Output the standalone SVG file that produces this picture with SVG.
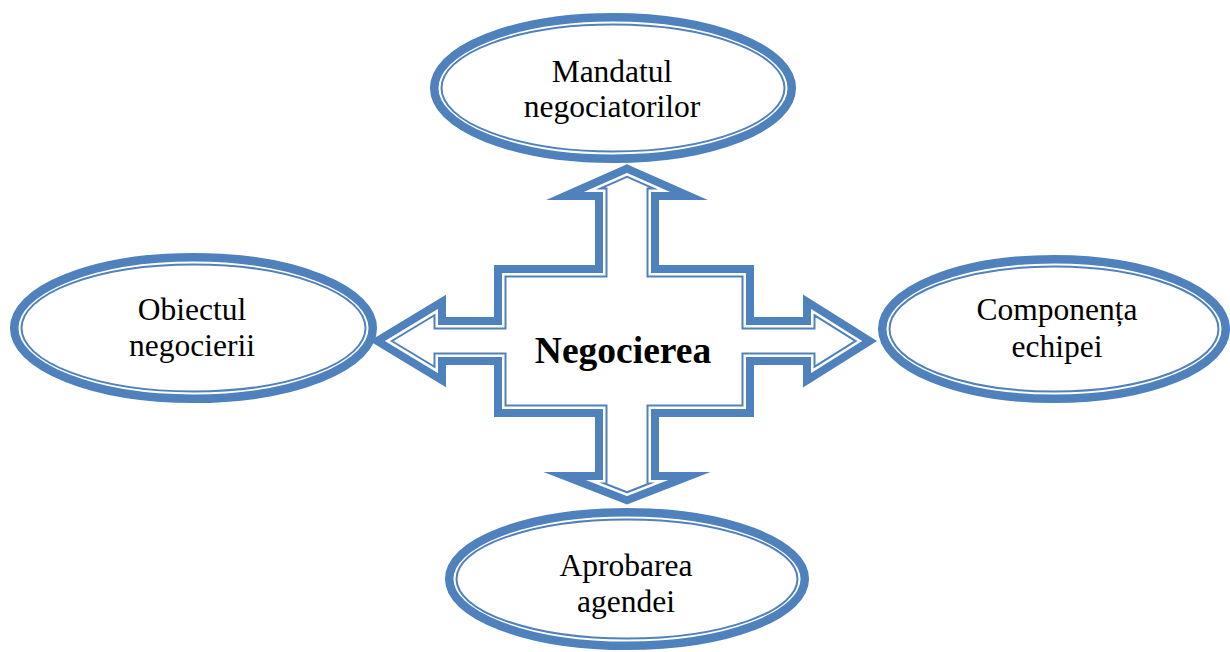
<svg xmlns="http://www.w3.org/2000/svg" xmlns:xlink="http://www.w3.org/1999/xlink" width="1230" height="652" viewBox="0 0 1230 652">
  <style>
    .thick { fill: #ffffff; stroke: #4f81bd; stroke-width: 8.5; }
    .thin { fill: none; stroke: #4f81bd; stroke-width: 2; }
    .label { font-family: "Liberation Serif", "Times New Roman", serif; font-size: 31.5px; fill: #000000; text-anchor: middle; }
    .title { font-family: "Liberation Serif", "Times New Roman", serif; font-size: 37.5px; font-weight: bold; fill: #000000; text-anchor: middle; }
  </style>
  <defs>
    <!-- Inner edge of the thick outer band of the four-way arrow -->
    <path id="quad" d="M627,173 L670,192 L651,192 L651,273 L746,273 L746,325 L811,325 L811,309 L862,341 L811,373 L811,357 L746,357 L746,409 L651,409 L651,480 L668,480 L627,496 L586,480 L603,480 L603,409 L502,409 L502,357 L438,357 L438,373 L385,341 L438,309 L438,325 L502,325 L502,273 L603,273 L603,192 L584,192 Z"/>
    <clipPath id="quadInside">
      <use xlink:href="#quad"/>
    </clipPath>
  </defs>

  <!-- Ellipse nodes: thick outer line with a thin line just inside -->
  <g id="node-mandatul">
    <ellipse class="thick" cx="613" cy="88" rx="178.8" ry="70.8"/>
    <ellipse class="thin" cx="613" cy="88" rx="171.5" ry="63.5"/>
    <text class="label" x="612" y="82">Mandatul</text>
    <text class="label" x="612" y="117">negociatorilor</text>
  </g>

  <g id="node-obiectul">
    <ellipse class="thick" cx="193.5" cy="328" rx="179.3" ry="70.8"/>
    <ellipse class="thin" cx="193.5" cy="328" rx="172" ry="63.5"/>
    <text class="label" x="192" y="320">Obiectul</text>
    <text class="label" x="192" y="356">negocierii</text>
  </g>

  <g id="node-componenta">
    <ellipse class="thick" cx="1054" cy="329" rx="171.8" ry="69.8"/>
    <ellipse class="thin" cx="1054" cy="329" rx="164.5" ry="62.5"/>
    <text class="label" x="1057" y="320">Componența</text>
    <text class="label" x="1057" y="357">echipei</text>
  </g>

  <g id="node-aprobarea">
    <ellipse class="thick" cx="627" cy="579" rx="177.8" ry="66.8"/>
    <ellipse class="thin" cx="627" cy="579" rx="170.5" ry="59.5"/>
    <text class="label" x="626" y="576">Aprobarea</text>
    <text class="label" x="626" y="612">agendei</text>
  </g>

  <!-- Central four-way arrow -->
  <g id="node-negocierea">
    <use xlink:href="#quad" fill="#ffffff" stroke="#4f81bd" stroke-width="16" stroke-miterlimit="10" stroke-linejoin="miter"/>
    <use xlink:href="#quad" fill="#ffffff" stroke="none"/>
    <g clip-path="url(#quadInside)">
      <use xlink:href="#quad" fill="none" stroke="#4f81bd" stroke-width="9" stroke-miterlimit="10"/>
      <use xlink:href="#quad" fill="none" stroke="#ffffff" stroke-width="5" stroke-miterlimit="10"/>
    </g>
    <text class="title" x="623" y="363">Negocierea</text>
  </g>

  <g id="connectors"></g>
</svg>
